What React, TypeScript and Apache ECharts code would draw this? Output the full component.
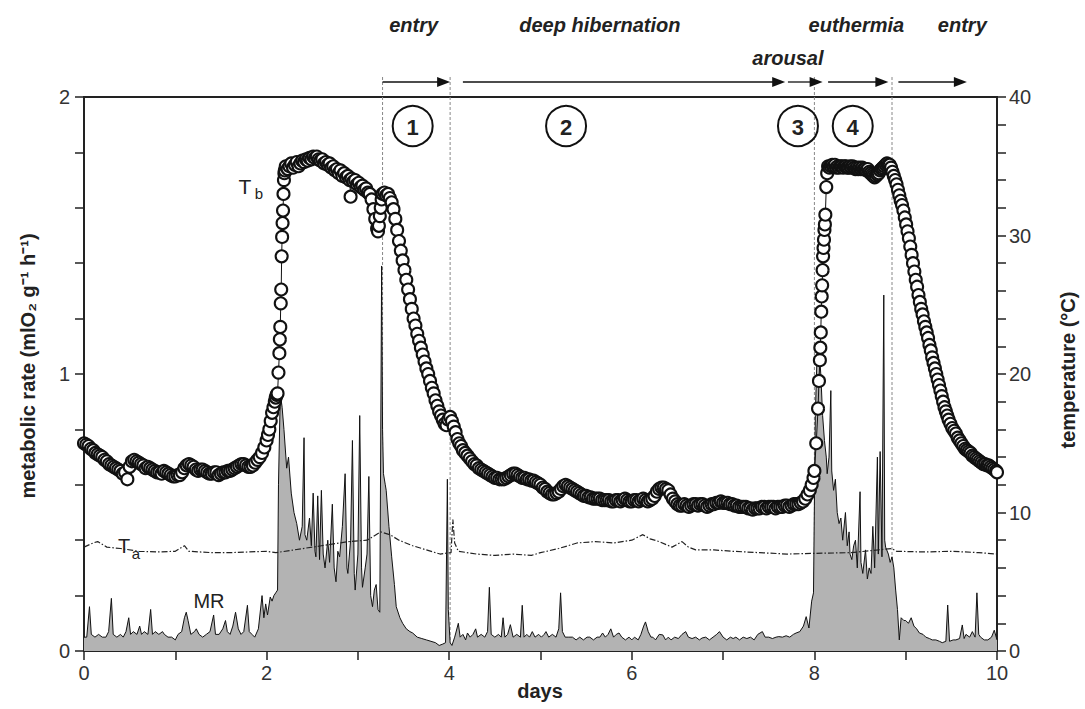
import React, { useEffect, useRef } from "react";
import * as echarts from "echarts";

const FONT = '"Liberation Sans", Arial, Helvetica, sans-serif';

// Body temperature Tb (°C) — [day, temperature]
const tbPoints: [number, number][] = [
  [0.0, 15.0], [0.025, 14.9], [0.05, 14.8], [0.075, 14.6], [0.1, 14.5], [0.125, 14.3], [0.15, 14.2], [0.175, 14.1],
  [0.2, 14.0], [0.225, 13.8], [0.25, 13.7], [0.275, 13.5], [0.3, 13.4], [0.325, 13.3], [0.35, 13.2], [0.375, 13.1],
  [0.4, 13.0], [0.425, 12.8], [0.45, 12.9], [0.475, 12.4], [0.5, 13.3], [0.525, 13.7], [0.55, 13.8], [0.575, 13.7],
  [0.6, 13.6], [0.625, 13.5], [0.65, 13.4], [0.675, 13.2], [0.7, 13.3], [0.725, 13.2], [0.75, 13.1], [0.775, 13.0],
  [0.8, 12.9], [0.825, 12.9], [0.85, 12.8], [0.875, 13.0], [0.9, 12.9], [0.925, 12.8], [0.95, 12.7], [0.975, 12.6],
  [1.0, 12.6], [1.025, 12.7], [1.05, 12.7], [1.075, 12.9], [1.1, 13.2], [1.125, 13.4], [1.15, 13.5], [1.175, 13.4],
  [1.2, 13.3], [1.225, 13.1], [1.25, 13.0], [1.275, 13.1], [1.3, 13.1], [1.325, 13.0], [1.35, 12.9], [1.375, 12.8],
  [1.4, 12.8], [1.425, 12.9], [1.45, 12.9], [1.475, 12.7], [1.5, 12.8], [1.525, 12.9], [1.55, 12.9], [1.575, 13.0],
  [1.6, 13.0], [1.625, 13.1], [1.65, 13.2], [1.675, 13.3], [1.7, 13.4], [1.725, 13.5], [1.75, 13.5], [1.775, 13.4],
  [1.8, 13.3], [1.825, 13.3], [1.85, 13.4], [1.875, 13.6], [1.9, 13.8], [1.925, 14.0], [1.95, 14.3], [1.975, 14.7],
  [2.0, 15.2], [2.015, 15.6], [2.03, 16.0], [2.045, 16.6], [2.06, 17.2], [2.075, 17.6], [2.09, 18.0], [2.1, 18.3],
  [2.11, 18.5], [2.12, 18.6], [2.13, 20.1], [2.14, 21.5], [2.145, 22.5], [2.15, 23.4], [2.155, 25.1], [2.16, 26.1],
  [2.165, 28.5], [2.17, 29.9], [2.175, 30.9], [2.18, 31.8], [2.185, 33.0], [2.19, 34.0], [2.195, 34.5], [2.2, 34.7],
  [2.21, 35.0], [2.23, 34.8], [2.25, 35.0], [2.27, 35.2], [2.29, 34.9], [2.31, 35.1], [2.33, 35.3], [2.35, 35.0],
  [2.37, 35.2], [2.39, 35.4], [2.41, 35.3], [2.43, 35.5], [2.45, 35.4], [2.47, 35.6], [2.49, 35.5], [2.51, 35.7],
  [2.53, 35.6], [2.55, 35.7], [2.57, 35.5], [2.59, 35.4], [2.61, 35.5], [2.63, 35.2], [2.65, 35.3], [2.67, 35.1],
  [2.69, 35.2], [2.71, 34.9], [2.73, 35.0], [2.75, 34.7], [2.77, 34.8], [2.79, 34.5], [2.81, 34.7], [2.83, 34.3],
  [2.85, 34.5], [2.87, 34.2], [2.89, 34.3], [2.91, 34.0], [2.92, 32.8], [2.93, 34.1], [2.95, 33.9], [2.97, 34.0],
  [2.99, 33.7], [3.01, 33.8], [3.03, 33.5], [3.05, 33.6], [3.07, 33.3], [3.09, 33.4], [3.11, 33.1], [3.13, 33.0],
  [3.15, 32.6], [3.17, 31.9], [3.19, 31.2], [3.21, 30.5], [3.22, 30.3], [3.23, 30.7], [3.24, 31.4], [3.25, 32.0],
  [3.26, 32.6], [3.27, 33.0], [3.29, 33.1], [3.31, 32.9], [3.33, 33.0], [3.35, 32.7], [3.37, 32.4], [3.39, 31.9],
  [3.41, 31.2], [3.43, 30.4], [3.45, 29.6], [3.47, 28.9], [3.49, 28.2], [3.51, 27.5], [3.53, 26.8], [3.55, 26.1],
  [3.57, 25.4], [3.59, 24.7], [3.61, 24.0], [3.63, 23.5], [3.65, 22.9], [3.67, 22.4], [3.69, 21.9], [3.71, 21.4],
  [3.73, 20.9], [3.75, 20.4], [3.77, 20.0], [3.79, 19.5], [3.81, 19.0], [3.83, 18.6], [3.85, 18.1], [3.87, 17.7],
  [3.89, 17.3], [3.91, 17.0], [3.93, 16.7], [3.95, 16.4], [3.97, 16.3], [3.99, 16.7], [4.01, 16.9], [4.03, 16.6],
  [4.05, 16.2], [4.07, 15.8], [4.09, 15.3], [4.11, 15.0], [4.13, 14.8], [4.15, 14.5], [4.175, 14.3], [4.2, 14.1],
  [4.225, 13.9], [4.25, 13.7], [4.275, 13.5], [4.3, 13.4], [4.325, 13.2], [4.35, 13.1], [4.375, 13.0], [4.4, 12.9],
  [4.425, 12.8], [4.45, 12.7], [4.475, 12.6], [4.5, 12.5], [4.525, 12.5], [4.55, 12.4], [4.575, 12.4], [4.6, 12.4],
  [4.625, 12.5], [4.65, 12.6], [4.675, 12.7], [4.7, 12.8], [4.725, 12.8], [4.75, 12.7], [4.775, 12.6], [4.8, 12.5],
  [4.825, 12.5], [4.85, 12.4], [4.875, 12.4], [4.9, 12.3], [4.925, 12.3], [4.95, 12.2], [4.975, 12.1], [5.0, 12.0],
  [5.025, 11.8], [5.05, 11.7], [5.075, 11.5], [5.1, 11.4], [5.125, 11.3], [5.15, 11.3], [5.175, 11.4], [5.2, 11.5],
  [5.225, 11.7], [5.25, 11.9], [5.275, 12.0], [5.3, 11.9], [5.325, 11.8], [5.35, 11.7], [5.375, 11.6], [5.4, 11.5],
  [5.425, 11.4], [5.45, 11.3], [5.475, 11.2], [5.5, 11.2], [5.525, 11.1], [5.55, 11.1], [5.575, 11.0], [5.6, 11.0],
  [5.625, 11.0], [5.65, 11.0], [5.675, 10.9], [5.7, 10.9], [5.725, 10.9], [5.75, 10.9], [5.775, 10.8], [5.8, 10.8],
  [5.825, 10.9], [5.85, 10.9], [5.875, 10.8], [5.9, 10.9], [5.925, 11.0], [5.95, 10.9], [5.975, 10.8], [6.0, 10.8],
  [6.025, 10.9], [6.05, 10.9], [6.075, 10.8], [6.1, 10.9], [6.125, 11.0], [6.15, 10.9], [6.175, 10.8], [6.2, 10.9],
  [6.225, 11.0], [6.25, 11.2], [6.275, 11.5], [6.3, 11.7], [6.325, 11.8], [6.35, 11.8], [6.375, 11.7], [6.4, 11.6],
  [6.425, 11.3], [6.45, 11.0], [6.475, 10.8], [6.5, 10.6], [6.525, 10.5], [6.55, 10.5], [6.575, 10.6], [6.6, 10.5],
  [6.625, 10.4], [6.65, 10.5], [6.675, 10.6], [6.7, 10.6], [6.725, 10.5], [6.75, 10.6], [6.775, 10.6], [6.8, 10.5],
  [6.825, 10.4], [6.85, 10.5], [6.875, 10.6], [6.9, 10.6], [6.925, 10.7], [6.95, 10.7], [6.975, 10.8], [7.0, 10.7],
  [7.025, 10.7], [7.05, 10.7], [7.075, 10.6], [7.1, 10.6], [7.125, 10.5], [7.15, 10.5], [7.175, 10.4], [7.2, 10.4],
  [7.225, 10.4], [7.25, 10.4], [7.275, 10.3], [7.3, 10.3], [7.325, 10.2], [7.35, 10.3], [7.375, 10.3], [7.4, 10.3],
  [7.425, 10.4], [7.45, 10.4], [7.475, 10.3], [7.5, 10.4], [7.525, 10.4], [7.55, 10.4], [7.575, 10.3], [7.6, 10.4],
  [7.625, 10.4], [7.65, 10.4], [7.675, 10.5], [7.7, 10.5], [7.725, 10.4], [7.75, 10.5], [7.775, 10.6], [7.8, 10.6],
  [7.825, 10.6], [7.85, 10.7], [7.875, 10.8], [7.9, 11.0], [7.925, 11.3], [7.95, 11.6], [7.97, 12.0], [7.99, 12.5],
  [8.0, 13.0], [8.02, 15.0], [8.04, 17.5], [8.05, 19.5], [8.06, 21.0], [8.065, 21.9], [8.07, 23.0], [8.075, 24.5],
  [8.08, 25.6], [8.085, 26.4], [8.09, 27.5], [8.095, 28.5], [8.1, 29.1], [8.105, 29.7], [8.11, 30.4], [8.115, 30.8],
  [8.12, 31.5], [8.13, 33.5], [8.14, 34.5], [8.15, 35.0], [8.165, 34.9], [8.18, 35.0], [8.195, 35.1], [8.21, 35.0],
  [8.225, 35.1], [8.24, 34.9], [8.255, 35.0], [8.27, 34.9], [8.285, 35.0], [8.3, 35.0], [8.315, 34.9], [8.33, 35.0],
  [8.345, 35.0], [8.36, 34.9], [8.375, 34.9], [8.39, 35.0], [8.405, 34.9], [8.42, 35.0], [8.435, 34.9], [8.45, 34.8],
  [8.465, 34.9], [8.48, 34.8], [8.495, 34.9], [8.51, 34.8], [8.525, 34.9], [8.54, 34.8], [8.555, 34.8], [8.57, 34.7],
  [8.585, 34.8], [8.6, 34.6], [8.615, 34.5], [8.63, 34.4], [8.645, 34.3], [8.66, 34.2], [8.675, 34.3], [8.69, 34.4],
  [8.705, 34.5], [8.72, 34.7], [8.735, 34.8], [8.75, 34.9], [8.765, 35.0], [8.78, 35.1], [8.795, 35.2], [8.81, 35.1],
  [8.825, 35.1], [8.84, 34.9], [8.855, 34.6], [8.87, 34.3], [8.885, 34.0], [8.9, 33.7], [8.915, 33.3], [8.93, 32.9],
  [8.945, 32.5], [8.96, 32.2], [8.975, 31.8], [8.99, 31.3], [9.005, 30.8], [9.02, 30.3], [9.035, 29.8], [9.05, 29.2],
  [9.065, 28.6], [9.08, 28.0], [9.095, 27.4], [9.11, 26.8], [9.125, 26.3], [9.14, 25.7], [9.155, 25.2], [9.17, 24.7],
  [9.185, 24.3], [9.2, 23.8], [9.215, 23.4], [9.23, 23.0], [9.245, 22.6], [9.26, 22.1], [9.275, 21.7], [9.29, 21.2],
  [9.305, 20.8], [9.32, 20.4], [9.335, 20.0], [9.35, 19.6], [9.365, 19.2], [9.38, 18.8], [9.395, 18.4], [9.41, 18.0],
  [9.425, 17.6], [9.44, 17.3], [9.455, 17.0], [9.47, 16.7], [9.49, 16.4], [9.51, 16.1], [9.53, 15.9], [9.55, 15.7],
  [9.57, 15.4], [9.59, 15.2], [9.61, 15.0], [9.63, 14.8], [9.65, 14.6], [9.67, 14.5], [9.69, 14.4], [9.71, 14.3],
  [9.73, 14.1], [9.75, 14.0], [9.77, 13.9], [9.79, 13.8], [9.81, 13.7], [9.83, 13.6], [9.85, 13.5], [9.87, 13.5],
  [9.89, 13.4], [9.91, 13.4], [9.93, 13.3], [9.95, 13.2], [9.97, 13.1], [9.99, 13.0], [10.0, 12.9],
];

// Ambient temperature Ta (°C) — [day, temperature]
const taPoints: [number, number][] = [
  [0.0, 7.5], [0.1, 7.8], [0.15, 7.9], [0.25, 7.5], [0.4, 7.4], [0.6, 7.2], [0.8, 7.15], [1.0, 7.2],
  [1.1, 7.6], [1.15, 7.2], [1.4, 7.1], [1.6, 7.1], [1.8, 7.15], [2.0, 7.2], [2.1, 7.1], [2.3, 7.3],
  [2.6, 7.6], [2.9, 7.9], [3.1, 8.0], [3.25, 8.6], [3.35, 8.4], [3.45, 8.0], [3.6, 7.6], [3.75, 7.3],
  [3.9, 7.0], [4.02, 7.1], [4.04, 9.5], [4.06, 7.8], [4.1, 7.2], [4.3, 7.0], [4.5, 6.9], [4.7, 7.0],
  [4.9, 6.9], [5.0, 7.1], [5.2, 7.4], [5.4, 7.8], [5.6, 7.9], [5.8, 7.8], [6.0, 8.0], [6.12, 8.4],
  [6.2, 8.1], [6.3, 7.9], [6.44, 7.5], [6.55, 7.9], [6.62, 7.5], [6.7, 7.3], [6.9, 7.3], [7.1, 7.2],
  [7.4, 7.1], [7.7, 7.0], [8.0, 7.05], [8.4, 7.1], [8.85, 7.4], [8.9, 7.2], [9.2, 7.15], [9.5, 7.2],
  [9.8, 7.1], [10.0, 7.0],
];

// Metabolic rate MR (ml O2 g-1 h-1) — [day, rate]
const mrPoints: [number, number][] = [
  [0.0, 0.05], [0.03, 0.05], [0.06, 0.16], [0.08, 0.06], [0.12, 0.05], [0.16, 0.06], [0.2, 0.05], [0.24, 0.05],
  [0.27, 0.07], [0.3, 0.19], [0.32, 0.06], [0.36, 0.05], [0.4, 0.06], [0.43, 0.05], [0.46, 0.07], [0.49, 0.12],
  [0.51, 0.06], [0.54, 0.07], [0.58, 0.06], [0.61, 0.09], [0.63, 0.06], [0.66, 0.07], [0.7, 0.06], [0.73, 0.15],
  [0.75, 0.06], [0.78, 0.07], [0.82, 0.06], [0.86, 0.07], [0.88, 0.06], [0.92, 0.05], [0.96, 0.05], [1.0, 0.04],
  [1.03, 0.06], [1.07, 0.07], [1.1, 0.12], [1.12, 0.14], [1.14, 0.11], [1.17, 0.06], [1.21, 0.07], [1.23, 0.08],
  [1.26, 0.06], [1.3, 0.05], [1.34, 0.06], [1.38, 0.07], [1.42, 0.13], [1.44, 0.06], [1.48, 0.06], [1.52, 0.08],
  [1.55, 0.11], [1.57, 0.07], [1.6, 0.06], [1.63, 0.09], [1.66, 0.14], [1.69, 0.08], [1.72, 0.06], [1.75, 0.07],
  [1.79, 0.165], [1.81, 0.07], [1.84, 0.06], [1.87, 0.05], [1.91, 0.08], [1.95, 0.2], [1.97, 0.12], [1.99, 0.17],
  [2.01, 0.13], [2.04, 0.195], [2.06, 0.18], [2.08, 0.2], [2.1, 0.21], [2.12, 0.22], [2.13, 0.6], [2.15, 0.93],
  [2.17, 0.88], [2.19, 0.8], [2.22, 0.66], [2.24, 0.7], [2.27, 0.57], [2.3, 0.5], [2.33, 0.46], [2.36, 0.4],
  [2.39, 0.45], [2.41, 0.77], [2.42, 0.42], [2.44, 0.4], [2.47, 0.48], [2.49, 0.38], [2.51, 0.57], [2.53, 0.36],
  [2.54, 0.34], [2.56, 0.56], [2.58, 0.33], [2.6, 0.58], [2.62, 0.35], [2.64, 0.3], [2.67, 0.4], [2.69, 0.32],
  [2.72, 0.53], [2.74, 0.3], [2.76, 0.25], [2.78, 0.36], [2.8, 0.34], [2.83, 0.45], [2.86, 0.64], [2.88, 0.3],
  [2.89, 0.28], [2.92, 0.4], [2.94, 0.76], [2.96, 0.28], [2.97, 0.22], [3.0, 0.35], [3.02, 0.85], [3.04, 0.3],
  [3.05, 0.23], [3.08, 0.3], [3.1, 0.35], [3.12, 0.63], [3.14, 0.2], [3.16, 0.16], [3.18, 0.22], [3.2, 0.24],
  [3.22, 0.15], [3.24, 0.14], [3.26, 1.39], [3.27, 0.8], [3.28, 0.64], [3.3, 0.6], [3.31, 0.58], [3.34, 0.45],
  [3.37, 0.34], [3.4, 0.24], [3.42, 0.16], [3.46, 0.12], [3.49, 0.1], [3.53, 0.08], [3.57, 0.07], [3.6, 0.065],
  [3.65, 0.05], [3.7, 0.045], [3.75, 0.04], [3.8, 0.035], [3.85, 0.03], [3.89, 0.02], [3.93, 0.025], [3.96, 0.03],
  [3.98, 0.62], [3.99, 0.15], [4.01, 0.03], [4.03, 0.02], [4.06, 0.05], [4.1, 0.1], [4.12, 0.05], [4.15, 0.06],
  [4.18, 0.04], [4.2, 0.065], [4.23, 0.05], [4.26, 0.06], [4.29, 0.08], [4.31, 0.05], [4.35, 0.06], [4.39, 0.05],
  [4.42, 0.07], [4.44, 0.23], [4.46, 0.06], [4.5, 0.05], [4.54, 0.06], [4.57, 0.05], [4.59, 0.12], [4.61, 0.05],
  [4.64, 0.06], [4.67, 0.095], [4.7, 0.05], [4.74, 0.06], [4.78, 0.05], [4.8, 0.165], [4.82, 0.05], [4.85, 0.06],
  [4.88, 0.05], [4.91, 0.07], [4.94, 0.05], [4.98, 0.06], [5.01, 0.05], [5.04, 0.06], [5.06, 0.07], [5.09, 0.05],
  [5.13, 0.06], [5.17, 0.05], [5.2, 0.08], [5.22, 0.21], [5.24, 0.07], [5.27, 0.05], [5.31, 0.05], [5.35, 0.05],
  [5.39, 0.04], [5.43, 0.05], [5.47, 0.04], [5.51, 0.05], [5.54, 0.05], [5.58, 0.04], [5.62, 0.05], [5.65, 0.05],
  [5.68, 0.065], [5.71, 0.05], [5.74, 0.06], [5.77, 0.08], [5.8, 0.05], [5.83, 0.06], [5.86, 0.065], [5.89, 0.05],
  [5.93, 0.04], [5.97, 0.05], [6.0, 0.04], [6.03, 0.05], [6.07, 0.04], [6.1, 0.06], [6.13, 0.09], [6.15, 0.105],
  [6.18, 0.07], [6.21, 0.05], [6.23, 0.05], [6.26, 0.04], [6.3, 0.06], [6.34, 0.058], [6.37, 0.04], [6.4, 0.05],
  [6.43, 0.04], [6.47, 0.05], [6.51, 0.045], [6.55, 0.06], [6.59, 0.07], [6.62, 0.05], [6.66, 0.045], [6.7, 0.05],
  [6.74, 0.04], [6.77, 0.047], [6.81, 0.05], [6.85, 0.04], [6.89, 0.05], [6.93, 0.06], [6.96, 0.07], [7.0, 0.05],
  [7.04, 0.04], [7.08, 0.05], [7.11, 0.045], [7.14, 0.05], [7.18, 0.04], [7.22, 0.05], [7.26, 0.045], [7.3, 0.05],
  [7.34, 0.04], [7.38, 0.06], [7.43, 0.07], [7.46, 0.05], [7.5, 0.05], [7.54, 0.045], [7.58, 0.05], [7.61, 0.052],
  [7.65, 0.05], [7.69, 0.055], [7.73, 0.05], [7.77, 0.06], [7.8, 0.065], [7.84, 0.07], [7.88, 0.09], [7.91, 0.124],
  [7.94, 0.083], [7.97, 0.18], [7.99, 0.21], [8.01, 0.85], [8.03, 1.08], [8.05, 1.1], [8.07, 1.0], [8.09, 0.85],
  [8.11, 0.76], [8.13, 0.7], [8.14, 0.64], [8.16, 0.7], [8.18, 0.94], [8.19, 0.65], [8.21, 0.58], [8.23, 0.62],
  [8.25, 0.5], [8.27, 0.46], [8.29, 0.48], [8.31, 0.4], [8.34, 0.5], [8.36, 0.38], [8.38, 0.43], [8.39, 0.35],
  [8.41, 0.33], [8.43, 0.38], [8.45, 0.4], [8.47, 0.3], [8.5, 0.575], [8.51, 0.32], [8.53, 0.28], [8.56, 0.365],
  [8.58, 0.26], [8.6, 0.3], [8.62, 0.28], [8.64, 0.45], [8.66, 0.3], [8.69, 0.7], [8.7, 0.35], [8.72, 0.72],
  [8.74, 0.34], [8.76, 1.285], [8.77, 0.4], [8.78, 0.375], [8.81, 0.35], [8.83, 0.32], [8.85, 0.34], [8.87, 0.3],
  [8.89, 0.22], [8.91, 0.15], [8.93, 0.04], [8.95, 0.12], [8.98, 0.11], [9.0, 0.11], [9.03, 0.1], [9.06, 0.12],
  [9.09, 0.09], [9.12, 0.08], [9.15, 0.065], [9.19, 0.06], [9.22, 0.05], [9.26, 0.045], [9.29, 0.04], [9.33, 0.04],
  [9.37, 0.035], [9.4, 0.03], [9.44, 0.035], [9.46, 0.166], [9.48, 0.035], [9.52, 0.04], [9.55, 0.04], [9.59, 0.045],
  [9.62, 0.094], [9.64, 0.045], [9.66, 0.06], [9.7, 0.05], [9.73, 0.07], [9.76, 0.05], [9.78, 0.21], [9.8, 0.06],
  [9.82, 0.05], [9.86, 0.04], [9.9, 0.04], [9.94, 0.05], [9.97, 0.075], [10.0, 0.04],
];

// Phase annotations (days)
const separatorDays = [3.27, 4.01, 8.0, 8.85];
const phaseArrows: [number, number][] = [
  [3.27, 4.01], [4.15, 7.68], [7.71, 8.09], [8.15, 8.81], [8.92, 9.67],
];
const phaseLabels = [
  { text: "entry", day: 3.61, row: 0 },
  { text: "deep hibernation", day: 5.65, row: 0 },
  { text: "arousal", day: 7.71, row: 1 },
  { text: "euthermia", day: 8.46, row: 0 },
  { text: "entry", day: 9.62, row: 0 },
];
const stepMarks = [
  { text: "1", day: 3.6 },
  { text: "2", day: 5.28 },
  { text: "3", day: 7.82 },
  { text: "4", day: 8.42 },
];

const isNear = (v: number, step: number) => Math.abs(v / step - Math.round(v / step)) < 1e-6;

export default function App() {
  const ref = useRef<HTMLDivElement>(null);

  useEffect(() => {
    if (!ref.current) return;
    const chart = echarts.init(ref.current, null, { renderer: "svg" });
    const tickLabel = { fontFamily: FONT, fontSize: 20, color: "#333" };
    chart.setOption({
      animation: false,
      backgroundColor: "#fff",
      grid: {
        left: 84, right: 88, top: 97, bottom: 58,
        show: true, borderColor: "#222", borderWidth: 2, backgroundColor: "transparent",
      },
      xAxis: {
        type: "value", min: 0, max: 10, interval: 1,
        axisLine: { lineStyle: { color: "#222", width: 2 } },
        axisTick: { inside: false, length: 9, lineStyle: { color: "#222", width: 1.5 } },
        axisLabel: {
          ...tickLabel, margin: 12,
          formatter: (v: number) => (isNear(v, 2) ? String(Math.round(v)) : ""),
        },
        splitLine: { show: false },
      },
      yAxis: [
        {
          type: "value", min: 0, max: 2, interval: 0.2, position: "left",
          axisLine: { show: true, lineStyle: { color: "#222", width: 2 } },
          axisTick: { show: true, inside: false, length: 9, lineStyle: { color: "#222", width: 1.5 } },
          axisLabel: {
            ...tickLabel, margin: 14,
            formatter: (v: number) => (isNear(v, 1) ? String(Math.round(v)) : ""),
          },
          splitLine: { show: false },
        },
        {
          type: "value", min: 0, max: 40, interval: 2, position: "right",
          axisLine: { show: true, lineStyle: { color: "#222", width: 2 } },
          axisTick: { show: true, inside: false, length: 9, lineStyle: { color: "#222", width: 1.5 } },
          axisLabel: {
            ...tickLabel, margin: 12,
            formatter: (v: number) => (isNear(v, 10) ? String(Math.round(v)) : ""),
          },
          splitLine: { show: false },
        },
      ],
      series: [
        {
          name: "MR", type: "line", yAxisIndex: 0, data: mrPoints, showSymbol: false,
          lineStyle: { color: "#111", width: 1 },
          areaStyle: { color: "#b3b3b3", opacity: 1 },
          z: 2,
        },
        {
          name: "Ta", type: "line", yAxisIndex: 1, data: taPoints, showSymbol: false,
          lineStyle: { color: "#222", width: 1.2, type: [6, 2, 1.5, 2] },
          z: 3,
        },
        {
          name: "Tb", type: "line", yAxisIndex: 1, data: tbPoints,
          symbol: "circle", symbolSize: 12, showSymbol: true,
          itemStyle: { color: "#fff", borderColor: "#111", borderWidth: 2.1 },
          lineStyle: { color: "#111", width: 1 },
          z: 4,
        },
      ],
    });

    const px = (d: number) => chart.convertToPixel({ xAxisIndex: 0 }, d) as number;
    const graphics: any[] = [];
    const arrowY = 82;
    separatorDays.forEach((d) => {
      const x = px(d);
      graphics.push({
        type: "line", shape: { x1: x, y1: 77, x2: x, y2: 650 },
        style: { stroke: "#888", lineWidth: 1, lineDash: [3, 2] }, silent: true,
      });
    });
    phaseArrows.forEach(([a, b]) => {
      const x1 = px(a);
      const x2 = px(b);
      graphics.push({
        type: "line", shape: { x1, y1: arrowY, x2: x2 - 8, y2: arrowY },
        style: { stroke: "#111", lineWidth: 1.3 }, silent: true,
      });
      graphics.push({
        type: "polygon", shape: { points: [[x2 - 13, arrowY - 5], [x2, arrowY], [x2 - 13, arrowY + 5]] },
        style: { fill: "#111" }, silent: true,
      });
    });
    phaseLabels.forEach((l) => {
      graphics.push({
        type: "text", x: px(l.day), y: l.row === 0 ? 25 : 58,
        style: {
          text: l.text, x: 0, y: 0, align: "center", verticalAlign: "middle",
          font: `italic bold 20px ${FONT}`, fill: "#222",
        },
      });
    });
    stepMarks.forEach((m) => {
      const x = px(m.day);
      graphics.push({
        type: "circle", shape: { cx: x, cy: 126, r: 20 },
        style: { fill: "none", stroke: "#111", lineWidth: 2 },
      });
      graphics.push({
        type: "text", x, y: 127,
        style: {
          text: m.text, x: 0, y: 0, align: "center", verticalAlign: "middle",
          font: `bold 22px ${FONT}`, fill: "#222",
        },
      });
    });
    const txt = (text: string, x: number, y: number, size: number, weight = "normal", rot = 0) => ({
      type: "text", x, y, rotation: rot,
      style: {
        text, x: 0, y: 0, align: "center", verticalAlign: "middle",
        font: `${weight} ${size}px ${FONT}`, fill: "#222",
      },
    });
    graphics.push(txt("T", 245, 186, 21));
    graphics.push(txt("b", 259, 193, 15));
    graphics.push(txt("T", 124, 546, 20));
    graphics.push(txt("a", 136, 553, 15));
    graphics.push(txt("MR", 209, 601, 20));
    graphics.push(txt("metabolic rate (mlO₂ g⁻¹ h⁻¹)", 28, 366, 20, "bold", Math.PI / 2));
    graphics.push(txt("temperature (°C)", 1068, 370, 20, "bold", Math.PI / 2));
    graphics.push(txt("days", 540, 691, 20, "bold"));

    chart.setOption({ graphic: graphics });

    return () => chart.dispose();
  }, []);

  return (
    <div
      ref={ref}
      style={{ position: "absolute", left: 0, top: 0, width: 1085, height: 709, background: "#fff" }}
    />
  );
}
